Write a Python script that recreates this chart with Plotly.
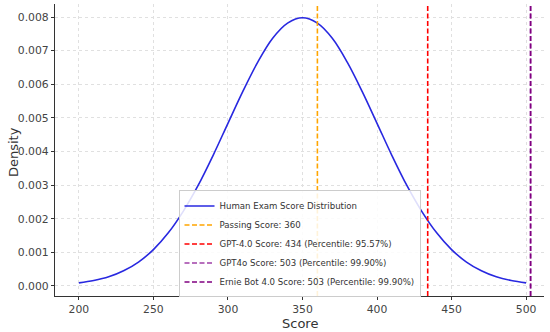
import plotly.graph_objects as go

# Curve values (score vs density)
scores = [200, 210, 220, 230, 240, 250, 260, 270, 280, 290, 300, 310, 320, 330, 340,
          350, 360, 370, 380, 390, 400, 410, 420, 430, 440, 450, 460, 470, 480, 490, 500]
density = [0.00009, 0.00016, 0.00027, 0.00045, 0.00071, 0.00108, 0.00158, 0.00222,
           0.00299, 0.00388, 0.00484, 0.00579, 0.00666, 0.00737, 0.00782, 0.00798,
           0.00782, 0.00737, 0.00666, 0.00579, 0.00484, 0.00388, 0.00299, 0.00222,
           0.00158, 0.00108, 0.00071, 0.00045, 0.00027, 0.00016, 0.00009]

marker_names = ["Passing Score: 360",
                "GPT-4.0 Score: 434 (Percentile: 95.57%)",
                "GPT4o Score: 503 (Percentile: 99.90%)",
                "Ernie Bot 4.0 Score: 503 (Percentile: 99.90%)"]
marker_scores = [360, 434, 503, 503]
marker_colors = ["#FFA500", "#FF0000", "#A040A8", "#800080"]

x_title = "Score"
y_title = "Density"

x_range = [184, 512]
y_range = [-0.0003, 0.00839]

fig = go.Figure()
fig.add_trace(go.Scatter(x=scores, y=density, mode="lines", line_shape="spline",
                         line=dict(color="#2828E0", width=1.6),
                         name="Human Exam Score Distribution"))
for n, s, c in zip(marker_names, marker_scores, marker_colors):
    fig.add_trace(go.Scatter(x=[s, s], y=y_range, mode="lines",
                             line=dict(color=c, width=1.6, dash="5px,2.5px"),
                             name=n))

axis_common = dict(showline=True, linecolor="#333333", linewidth=1.2,
                   ticks="outside", ticklen=3, tickcolor="#333333",
                   showgrid=True, gridcolor="#e0e0e0", griddash="dot", gridwidth=1,
                   zeroline=False, tickfont=dict(size=10.8, color="#444444"),
                   mirror=False, automargin=False)

fig.update_layout(
    template="none",
    width=550, height=332,
    margin=dict(l=55, r=6, t=4, b=36),
    paper_bgcolor="white", plot_bgcolor="white",
    font=dict(family="DejaVu Sans", color="#333333"),
    xaxis=dict(range=x_range, tickvals=[200, 250, 300, 350, 400, 450, 500], **axis_common),
    yaxis=dict(range=y_range, tickvals=[0, 0.001, 0.002, 0.003, 0.004, 0.005, 0.006, 0.007, 0.008],
               tickformat=".3f", **axis_common),
    legend=dict(x=0.5, xanchor="center", y=-0.005, yanchor="bottom",
                bgcolor="rgba(255,255,255,0.85)", bordercolor="#cccccc", borderwidth=1,
                font=dict(size=8.6, color="#333333")),
    showlegend=True,
    annotations=[
        dict(text=x_title, xref="paper", yref="paper", x=0.5, y=-0.094,
             xanchor="center", yanchor="middle", showarrow=False,
             font=dict(size=13, color="#333333")),
        dict(text=y_title, xref="paper", yref="paper", x=-0.0859, y=0.493,
             xanchor="center", yanchor="middle", textangle=-90, showarrow=False,
             font=dict(size=13, color="#333333")),
    ],
)

fig.write_html("out.html", config={"displayModeBar": False},
               post_script="document.body.style.margin='0';document.body.style.overflow='hidden';")
